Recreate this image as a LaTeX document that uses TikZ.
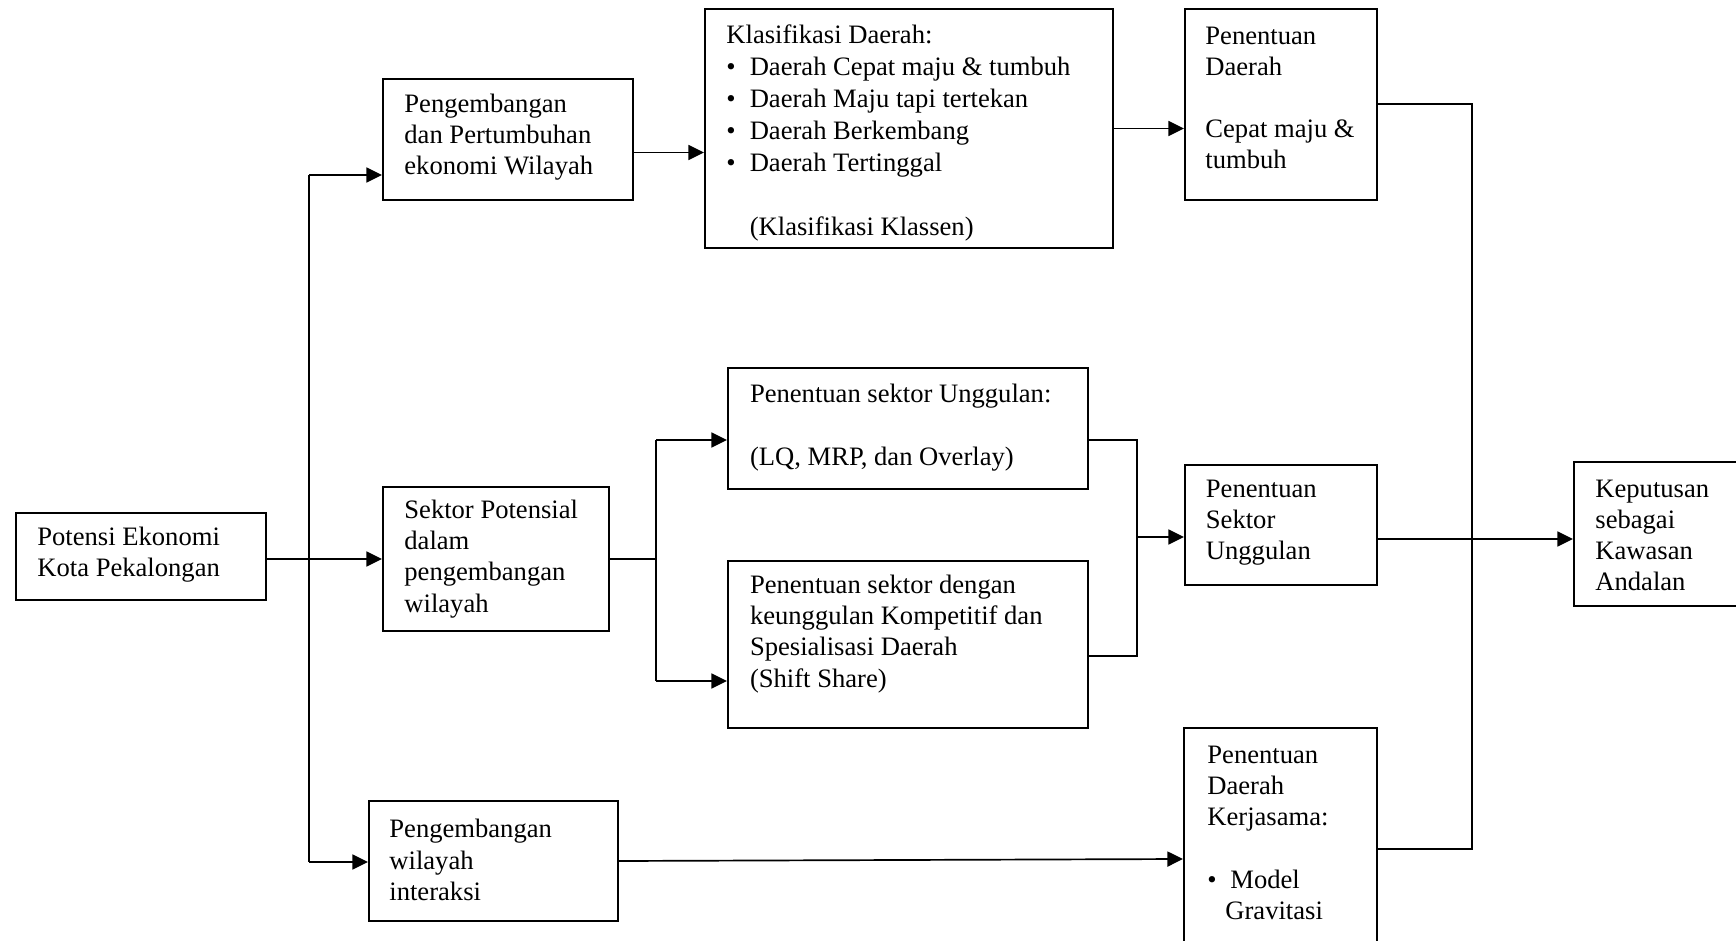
\documentclass[tikz,border=0pt]{standalone}
\usepackage{fontspec}
\setmainfont{Liberation Serif}
\usetikzlibrary{arrows.meta,fit,calc}
\begin{document}
\begin{tikzpicture}[x=0.5pt,y=-0.5pt,
  box/.style={draw,line width=1pt,inner sep=0pt},
  txt/.style={anchor=west,align=left,inner sep=0pt,font=\fontsize{13.3}{15.6}\selectfont},
  conn/.style={line width=0.85pt},
  arr/.style={line width=0.85pt,-{Triangle[length=7.8pt,width=7.5pt]}}]
\useasboundingbox (0,0) rectangle (1736,941);
\clip (0,0) rectangle (1736,941);
% boxes
\node[box,fit={(16,513) (266,600)}] (pot) {};
\node[box,fit={(383,79) (633,200)}] (peng) {};
\node[box,fit={(705,9) (1113,248)}] (klas) {};
\node[box,fit={(1185,9) (1377,200)}] (pd) {};
\node[box,fit={(383,487) (609,631)}] (sekp) {};
\node[box,fit={(728,368) (1088,489)}] (psua) {};
\node[box,fit={(728,561) (1088,728)}] (psub) {};
\node[box,fit={(1185,465) (1377,585)}] (psu) {};
\node[box,fit={(1574,462) (1770,606)}] (kep) {};
\node[box,fit={(369,801) (618,921)}] (pwi) {};
\node[box,fit={(1184,728) (1377,980)}] (kerj) {};
% texts
\node[txt] (tpot) at (37,555) {Potensi Ekonomi\\Kota Pekalongan};
\node[txt] (tpeng) at (404,137) {Pengembangan\\dan Pertumbuhan\\ekonomi Wilayah};
\node[txt,font=\fontsize{13.3}{16}\selectfont] (tklas) at (726,132.5) {Klasifikasi Daerah:\\
\makebox[11.7pt][l]{\textbullet}Daerah Cepat maju \& tumbuh\\
\makebox[11.7pt][l]{\textbullet}Daerah Maju tapi tertekan\\
\makebox[11.7pt][l]{\textbullet}Daerah Berkembang\\
\makebox[11.7pt][l]{\textbullet}Daerah Tertinggal\\
\mbox{}\\
\hspace*{11.7pt}(Klasifikasi Klassen)};
\node[txt] (tpd) at (1205,98) {Penentuan\\Daerah\\\mbox{}\\Cepat maju \&\\tumbuh};
\node[txt] (tsekp) at (404,559) {Sektor Potensial\\dalam\\pengembangan\\wilayah};
\node[txt] (tpsua) at (749.6,427.5) {Penentuan sektor Unggulan:\\\mbox{}\\(LQ, MRP, dan Overlay)};
\node[txt] (tpsub) at (749.6,634) {Penentuan sektor dengan\\keunggulan Kompetitif dan\\Spesialisasi Daerah\\(Shift Share)};
\node[txt] (tpsu) at (1205.5,522.5) {Penentuan\\Sektor\\Unggulan};
\node[txt] (tkep) at (1595,535.5) {Keputusan\\sebagai\\Kawasan\\Andalan};
\node[txt] (tpwi) at (389,860) {Pengembangan\\wilayah\\interaksi};
\node[txt] (tkerj) at (1207,833) {Penentuan\\Daerah\\Kerjasama:\\\mbox{}\\\makebox[11.5pt][l]{\textbullet}Model\\\hspace*{9pt}Gravitasi};
% connectors
\coordinate (jtop) at (309,175);
\coordinate (jbot) at (309,862);
\draw[conn] (jtop) -- (jbot);
\draw[arr] (jtop) -- (jtop -| peng.west);
\draw[arr] (jbot) -- (jbot -| pwi.west);
\draw[arr] (pot.east |- sekp.west) -- (sekp.west);
\draw[arr] ($(peng.east)+(0,13)$) -- ($(klas.west |- peng.east)+(0,13)$);
\draw[arr] (klas.east) -- (klas.east -| pd.west);
\coordinate (rtop) at (1472,104);
\coordinate (rbot) at (1472,849);
\draw[conn] (pd.east |- rtop) -- (rtop) -- (rbot) -- (rbot -| kerj.east);
\coordinate (sa) at (656,440);
\coordinate (sb) at (656,681);
\draw[conn] (sekp.east) -- (sekp.east -| sa);
\draw[conn] (sa) -- (sb);
\draw[arr] (sa) -- (sa -| psua.west);
\draw[arr] (sb) -- (sb -| psub.west);
\coordinate (ja) at (1137,440);
\coordinate (jb) at (1137,656);
\coordinate (jm) at (1137,537);
\draw[conn] (ja -| psua.east) -- (ja) -- (jb) -- (jb -| psub.east);
\draw[arr] (jm) -- (jm -| psu.west);
\coordinate (km) at (1472,539);
\draw[arr] (km -| psu.east) -- (km -| kep.west);
\draw[arr] (pwi.east) -- ($(kerj.west |- pwi.east)+(0,-2)$);
\end{tikzpicture}
\end{document}
